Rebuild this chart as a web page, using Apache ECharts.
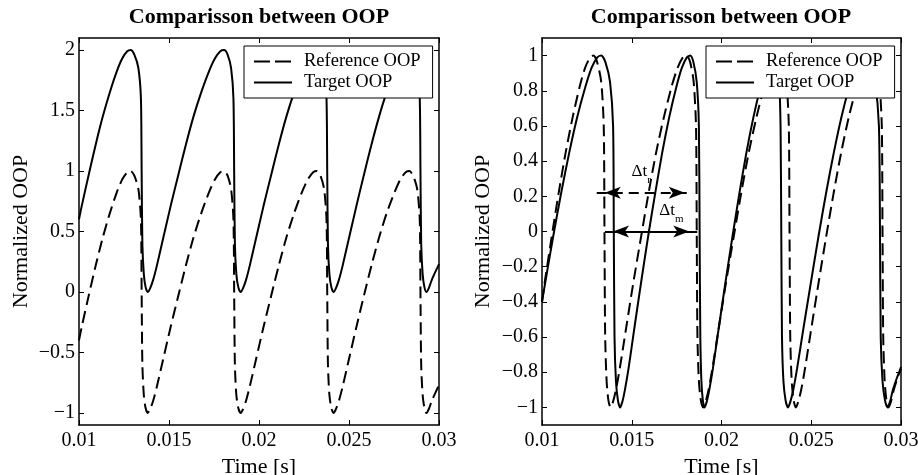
<!DOCTYPE html>
<html>
<head>
<meta charset="utf-8">
<script src="https://cdn.jsdelivr.net/npm/echarts@6/dist/echarts.min.js"></script>
<style>html,body{margin:0;padding:0;background:#fff}#c{width:918px;height:475px}</style>
</head>
<body>
<div id="c"></div>
<script>
// ---------- data ----------
const xTicks = [0.01, 0.015, 0.02, 0.025, 0.03];
const leftYTicks = [-1, -0.5, 0, 0.5, 1, 1.5, 2];
const rightYTicks = [-1, -0.8, -0.6, -0.4, -0.2, 0, 0.2, 0.4, 0.6, 0.8, 1];
const seriesNames = ['Reference OOP', 'Target OOP'];
const titleText = 'Comparisson between OOP';

// Reference OOP  [time s, normalized value]
const referenceOOP = [
[0.01000,-0.40],[0.01015,-0.29],[0.01054,-0.03],[0.01093,0.22],[0.01132,0.45],[0.01171,0.65],[0.01209,0.82],[0.01240,0.93],[0.01268,0.99],[0.01287,1.00],
[0.01308,0.96],[0.01330,0.85],[0.01344,0.60],[0.01348,0.00],[0.01352,-0.60],[0.01360,-0.85],[0.01370,-0.96],[0.01382,-1.00],
[0.01395,-0.97],[0.01412,-0.90],[0.01433,-0.78],[0.01467,-0.56],[0.01509,-0.29],[0.01552,-0.03],[0.01594,0.22],[0.01636,0.45],[0.01679,0.65],[0.01721,0.82],[0.01755,0.93],[0.01785,0.99],[0.01806,1.00],
[0.01826,0.96],[0.01845,0.85],[0.01858,0.60],[0.01862,0.00],[0.01866,-0.60],[0.01874,-0.85],[0.01885,-0.96],[0.01898,-1.00],
[0.01911,-0.97],[0.01928,-0.90],[0.01949,-0.78],[0.01983,-0.56],[0.02025,-0.29],[0.02068,-0.03],[0.02110,0.22],[0.02152,0.45],[0.02195,0.65],[0.02237,0.82],[0.02271,0.93],[0.02301,0.99],[0.02322,1.00],
[0.02342,0.96],[0.02362,0.85],[0.02375,0.60],[0.02379,0.00],[0.02383,-0.60],[0.02391,-0.85],[0.02402,-0.96],[0.02414,-1.00],
[0.02427,-0.97],[0.02444,-0.90],[0.02465,-0.78],[0.02499,-0.56],[0.02541,-0.29],[0.02583,-0.03],[0.02625,0.22],[0.02667,0.45],[0.02709,0.65],[0.02752,0.82],[0.02785,0.93],[0.02815,0.99],[0.02836,1.00],
[0.02857,0.96],[0.02879,0.85],[0.02893,0.60],[0.02897,0.00],[0.02901,-0.60],[0.02909,-0.85],[0.02919,-0.96],[0.02930,-1.00],
[0.02943,-0.97],[0.02960,-0.90],[0.02981,-0.83],[0.03000,-0.77]
];

// Target OOP as drawn in the left panel
const targetOOPLeft = [
[0.01000,0.60],[0.01015,0.71],[0.01054,0.97],[0.01093,1.22],[0.01132,1.45],[0.01171,1.65],[0.01209,1.82],[0.01240,1.93],[0.01268,1.99],[0.01287,2.00],
[0.01308,1.96],[0.01330,1.85],[0.01344,1.60],[0.01348,1.00],[0.01352,0.40],[0.01360,0.15],[0.01370,0.04],[0.01382,0.00],
[0.01395,0.03],[0.01412,0.10],[0.01433,0.22],[0.01467,0.44],[0.01509,0.71],[0.01552,0.97],[0.01594,1.22],[0.01636,1.45],[0.01679,1.65],[0.01721,1.82],[0.01755,1.93],[0.01785,1.99],[0.01806,2.00],
[0.01826,1.96],[0.01845,1.85],[0.01858,1.60],[0.01862,1.00],[0.01866,0.40],[0.01874,0.15],[0.01885,0.04],[0.01898,0.00],
[0.01911,0.03],[0.01928,0.10],[0.01949,0.22],[0.01983,0.44],[0.02025,0.71],[0.02068,0.97],[0.02110,1.22],[0.02152,1.45],[0.02195,1.65],[0.02237,1.82],[0.02271,1.93],[0.02301,1.99],[0.02322,2.00],
[0.02342,1.96],[0.02362,1.85],[0.02375,1.60],[0.02379,1.00],[0.02383,0.40],[0.02391,0.15],[0.02402,0.04],[0.02414,0.00],
[0.02427,0.03],[0.02444,0.10],[0.02465,0.22],[0.02499,0.44],[0.02541,0.71],[0.02583,0.97],[0.02625,1.22],[0.02667,1.45],[0.02709,1.65],[0.02752,1.82],[0.02785,1.93],[0.02815,1.99],[0.02836,2.00],
[0.02857,1.96],[0.02879,1.85],[0.02893,1.60],[0.02897,1.00],[0.02901,0.40],[0.02909,0.15],[0.02919,0.04],[0.02930,0.00],
[0.02943,0.03],[0.02960,0.10],[0.02981,0.17],[0.03000,0.23]
];

// Target OOP as drawn in the right panel
const targetOOPRight = [
[0.01000,-0.40],[0.01018,-0.29],[0.01062,-0.03],[0.01107,0.22],[0.01152,0.45],[0.01196,0.65],[0.01241,0.82],[0.01276,0.93],[0.01308,0.99],[0.01330,1.00],
[0.01354,0.96],[0.01379,0.85],[0.01396,0.60],[0.01400,0.00],[0.01404,-0.60],[0.01412,-0.85],[0.01423,-0.96],[0.01435,-1.00],
[0.01447,-0.97],[0.01462,-0.90],[0.01482,-0.78],[0.01513,-0.56],[0.01552,-0.29],[0.01591,-0.03],[0.01631,0.22],[0.01670,0.45],[0.01709,0.65],[0.01748,0.82],[0.01779,0.93],[0.01807,0.99],[0.01826,1.00],
[0.01844,0.96],[0.01862,0.85],[0.01874,0.60],[0.01878,0.00],[0.01882,-0.60],[0.01888,-0.85],[0.01896,-0.96],[0.01905,-1.00],
[0.01917,-0.97],[0.01932,-0.90],[0.01952,-0.78],[0.01983,-0.56],[0.02022,-0.29],[0.02061,-0.03],[0.02100,0.22],[0.02139,0.45],[0.02178,0.65],[0.02217,0.82],[0.02248,0.93],[0.02276,0.99],[0.02295,1.00],
[0.02308,0.96],[0.02321,0.85],[0.02329,0.60],[0.02333,0.00],[0.02337,-0.60],[0.02345,-0.85],[0.02357,-0.96],[0.02370,-1.00],
[0.02383,-0.97],[0.02400,-0.90],[0.02421,-0.78],[0.02455,-0.56],[0.02498,-0.29],[0.02540,-0.03],[0.02583,0.22],[0.02626,0.45],[0.02668,0.65],[0.02711,0.82],[0.02745,0.93],[0.02775,0.99],[0.02796,1.00],
[0.02825,0.96],[0.02855,0.85],[0.02877,0.60],[0.02883,0.00],[0.02887,-0.60],[0.02897,-0.85],[0.02911,-0.96],[0.02925,-1.00],
[0.02938,-0.97],[0.02955,-0.90],[0.02978,-0.83],[0.03000,-0.78]
];

// annotations in the right panel (data coordinates)
const arrowR = [[0.01305, 0.22], [0.01840, 0.22]];
const arrowM = [[0.01351, 0.00], [0.01865, 0.00]];
const labelR = [0.01553, 0.34];
const labelM = [0.01721, 0.12];

// ---------- styling ----------
const FONT = '"Liberation Serif", "Times New Roman", Times, serif';
const fmt = v => String(v).replace('-', '\u2212');
const DASH = [12, 6];

function xAxes(grid) {
  const base = {
    gridIndex: grid, type: 'value', min: 0.01, max: 0.03,
    axisLine: { show: true, onZero: false, lineStyle: { color: '#000', width: 1.5 } },
    axisTick: { show: true, inside: true, length: 5, customValues: xTicks, lineStyle: { color: '#000', width: 1 } },
    splitLine: { show: false }
  };
  return [
    Object.assign({}, base, {
      position: 'bottom',
      axisLabel: { customValues: xTicks, formatter: fmt, margin: 6, color: '#000', fontSize: 20, fontFamily: FONT },
      name: 'Time [s]', nameLocation: 'middle', nameGap: 25,
      nameTextStyle: { color: '#000', fontSize: 22, fontFamily: FONT }
    }),
    Object.assign({}, base, { position: 'top', axisLabel: { show: false } })
  ];
}
function yAxes(grid, min, max, ticks, gap) {
  const base = {
    gridIndex: grid, type: 'value', min: min, max: max,
    axisLine: { show: true, onZero: false, lineStyle: { color: '#000', width: 1.5 } },
    axisTick: { show: true, inside: true, length: 5, customValues: ticks, lineStyle: { color: '#000', width: 1 } },
    splitLine: { show: false }
  };
  return [
    Object.assign({}, base, {
      position: 'left',
      axisLabel: { customValues: ticks, formatter: fmt, margin: 4, color: '#000', fontSize: 20, fontFamily: FONT },
      name: 'Normalized OOP', nameLocation: 'middle', nameGap: gap,
      nameTextStyle: { color: '#000', fontSize: 22, fontFamily: FONT }
    }),
    Object.assign({}, base, { position: 'right', axisLabel: { show: false } })
  ];
}
function lineSeries(name, data, xi, yi, dashed, extra) {
  return Object.assign({
    name: name, type: 'line', xAxisIndex: xi, yAxisIndex: yi, data: data,
    symbol: 'none', showSymbol: false, smooth: 0.25,
    lineStyle: { color: '#000', width: 2, type: dashed ? DASH : 'solid' },
    itemStyle: { color: '#000' },
    emphasis: { disabled: true }, silent: true, animation: false
  }, extra || {});
}
function legendAt(left) {
  return {
    left: left, top: 46, orient: 'vertical', selectedMode: false,
    backgroundColor: '#fff', borderColor: '#000', borderWidth: 1, borderRadius: 0,
    padding: [5, 12, 5, 9], itemGap: 0, itemWidth: 38, itemHeight: 14,
    itemStyle: { opacity: 0 },
    textStyle: { color: '#000', fontSize: 18.5, fontFamily: FONT, lineHeight: 21, padding: [0, 0, 0, 7] },
    data: [
      { name: seriesNames[0], itemStyle: { opacity: 0 }, lineStyle: { type: [16, 5], width: 2, color: '#000', opacity: 1 } },
      { name: seriesNames[1], itemStyle: { opacity: 0 }, lineStyle: { type: 'solid', width: 2, color: '#000', opacity: 1 } }
    ]
  };
}
// arrowheads: tip sits on the arrow end, pointing outwards
function arrowHeads(ends, name) {
  return {
    name: name, type: 'scatter', xAxisIndex: 2, yAxisIndex: 2, silent: true, animation: false,
    symbol: 'arrow', symbolSize: [9, 16], itemStyle: { color: '#000', opacity: 1 },
    emphasis: { disabled: true }, z: 5,
    data: [
      { value: ends[0], symbolRotate: 90, symbolOffset: [8, 0] },
      { value: ends[1], symbolRotate: -90, symbolOffset: [-8, 0] }
    ]
  };
}

const chart = echarts.init(document.getElementById('c'), null, { renderer: 'canvas' });
chart.setOption({
  animation: false,
  backgroundColor: '#fff',
  title: [
    { text: titleText, left: 259, top: 6, textAlign: 'center', padding: 0,
      textStyle: { color: '#000', fontSize: 22, fontWeight: 'bold', fontFamily: FONT } },
    { text: titleText, left: 721, top: 6, textAlign: 'center', padding: 0,
      textStyle: { color: '#000', fontSize: 22, fontWeight: 'bold', fontFamily: FONT } }
  ],
  legend: [legendAt(244), legendAt(706)],
  grid: [
    { left: 79, right: 479, top: 38, bottom: 50, containLabel: false, outerBoundsMode: 'none' },
    { left: 542, right: 17, top: 38, bottom: 50, containLabel: false, outerBoundsMode: 'none' }
  ],
  xAxis: xAxes(0).concat(xAxes(1)),
  yAxis: yAxes(0, -1.1, 2.1, leftYTicks, 47).concat(yAxes(1, -1.1, 1.1, rightYTicks, 48)),
  series: [
    lineSeries(seriesNames[0], referenceOOP, 0, 0, true),
    lineSeries(seriesNames[1], targetOOPLeft, 0, 0, false),
    lineSeries(seriesNames[0], referenceOOP, 2, 2, true, {
      markLine: {
        silent: true, animation: false, symbol: ['none', 'none'],
        label: { show: false },
        lineStyle: { color: '#000', width: 2, type: [10, 6] },
        data: [[{ coord: arrowR[0] }, { coord: arrowR[1] }]]
      }
    }),
    lineSeries(seriesNames[1], targetOOPRight, 2, 2, false, {
      markLine: {
        silent: true, animation: false, symbol: ['none', 'none'],
        label: { show: false },
        lineStyle: { color: '#000', width: 2, type: 'solid' },
        data: [[{ coord: arrowM[0] }, { coord: arrowM[1] }]]
      },
      markPoint: {
        silent: true, animation: false, symbol: 'circle', symbolSize: 0,
        itemStyle: { color: 'transparent' }, z: 10,
        label: {
          show: true, position: 'inside', color: '#000',
          rich: {
            m: { fontSize: 17, fontFamily: FONT, lineHeight: 28, color: '#000' },
            s: { fontSize: 11, fontFamily: FONT, lineHeight: 12, verticalAlign: 'bottom', color: '#000' }
          }
        },
        data: [
          { coord: labelR, label: { formatter: '{m|\u0394t}{s|r}' } },
          { coord: labelM, label: { formatter: '{m|\u0394t}{s|m}' } }
        ]
      }
    }),
    arrowHeads(arrowR, 'arrowR'),
    arrowHeads(arrowM, 'arrowM')
  ]
});
</script>
</body>
</html>
